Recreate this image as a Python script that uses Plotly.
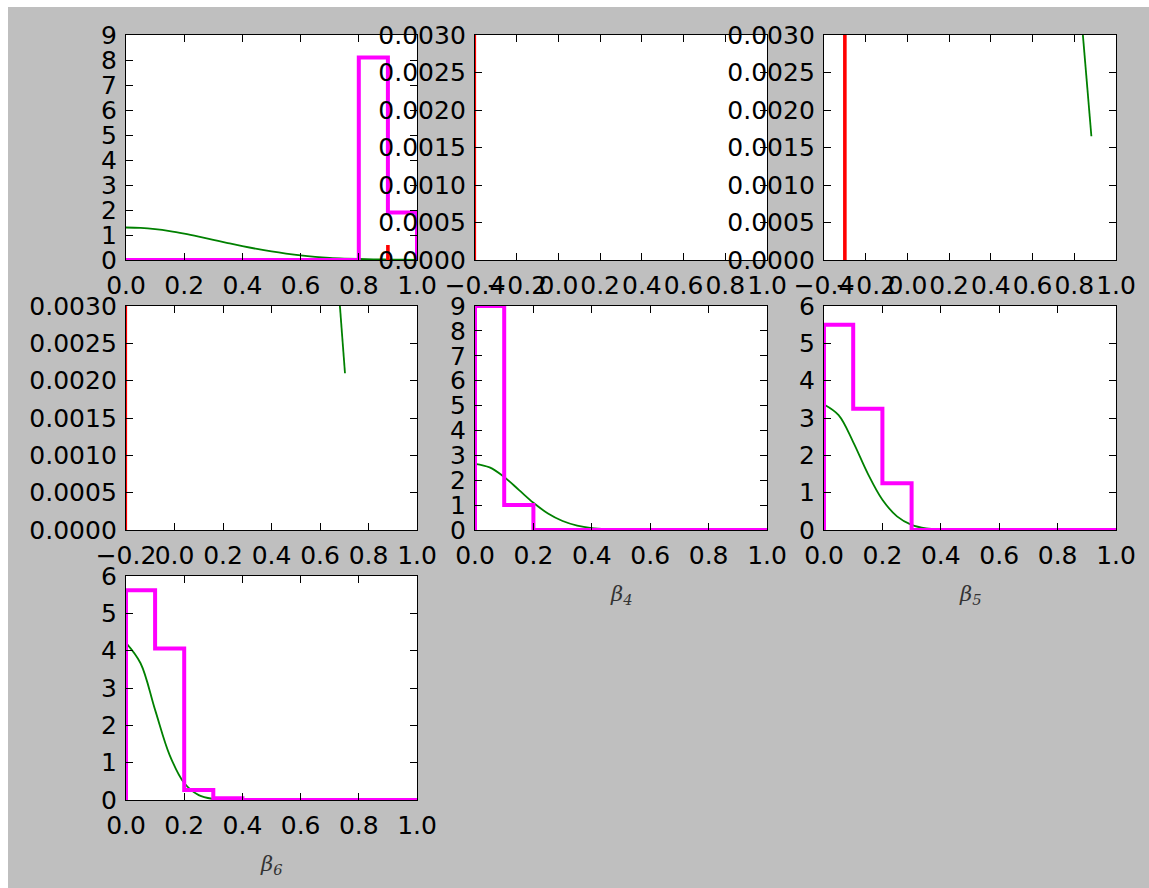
import numpy as np
import plotly.graph_objects as go

# ---------------------------------------------------------------- data
bin_edges = [0.0, 0.1, 0.2, 0.3, 0.4, 0.5, 0.6, 0.7, 0.8, 0.9, 1.0]

# posterior sample histograms (density, step outline)
hist_b1 = [0.0, 0.0, 0.0, 0.0, 0.0, 0.0, 0.0, 0.0, 8.1, 1.9]
hist_b4 = [9.0, 1.0, 0.0, 0.0, 0.0, 0.0, 0.0, 0.0, 0.0, 0.0]
hist_b5 = [5.5, 3.25, 1.25, 0.0, 0.0, 0.0, 0.0, 0.0, 0.0, 0.0]
hist_b6 = [5.62, 4.06, 0.27, 0.05, 0.0, 0.0, 0.0, 0.0, 0.0, 0.0]

# prior density curves
prior_x = [0.0, 0.05, 0.1, 0.15, 0.2, 0.25, 0.3, 0.35, 0.4, 0.45, 0.5,
           0.55, 0.6, 0.65, 0.7, 0.75, 0.8, 0.85, 0.9, 0.95, 1.0]
prior_b1 = [1.300, 1.283, 1.233, 1.154, 1.051, 0.933, 0.806, 0.679, 0.556,
            0.444, 0.345, 0.258, 0.182, 0.125, 0.085, 0.058, 0.040, 0.027,
            0.018, 0.011, 0.007]
prior_b4 = [2.660, 2.516, 2.130, 1.613, 1.094, 0.663, 0.360, 0.175, 0.076,
            0.030, 0.010, 0.003, 0.001, 0.0, 0.0, 0.0, 0.0, 0.0, 0.0, 0.0, 0.0]
prior_b5 = [3.360, 3.075, 2.356, 1.512, 0.812, 0.366, 0.138, 0.043, 0.012,
            0.003, 0.0, 0.0, 0.0, 0.0, 0.0, 0.0, 0.0, 0.0, 0.0, 0.0, 0.0]
prior_b6 = [4.210, 3.663, 2.414, 1.204, 0.455, 0.130, 0.028, 0.005, 0.001,
            0.0, 0.0, 0.0, 0.0, 0.0, 0.0, 0.0, 0.0, 0.0, 0.0, 0.0, 0.0]

# prior tails that reach into the zoomed panels
tail_x_b3 = [0.82, 0.84, 0.86, 0.882]
tail_y_b3 = [0.0037, 0.0030, 0.00235, 0.00165]
tail_x_b4 = [0.67, 0.682, 0.703]
tail_y_b4 = [0.00352, 0.0030, 0.0021]

# true parameter values (vertical markers): panel, x, top
true_panel = [1, 2, 3, 4]
true_x = [0.9, -0.4, -0.3, -0.2]
true_top = [0.6, 0.0035, 0.0035, 0.0035]

# tick values / labels
ticks_01 = [0.0, 0.2, 0.4, 0.6, 0.8, 1.0]
ticks_01_txt = ["0.0", "0.2", "0.4", "0.6", "0.8", "1.0"]
ticks_m04 = [-0.4, -0.2, 0.0, 0.2, 0.4, 0.6, 0.8, 1.0]
ticks_m04_txt = ["\u22120.4", "\u22120.2", "0.0", "0.2", "0.4", "0.6", "0.8", "1.0"]
ticks_m02 = [-0.2, 0.0, 0.2, 0.4, 0.6, 0.8, 1.0]
ticks_m02_txt = ["\u22120.2", "0.0", "0.2", "0.4", "0.6", "0.8", "1.0"]
ticks_small = [0.0, 0.0005, 0.0010, 0.0015, 0.0020, 0.0025, 0.0030]
ticks_small_txt = ["0.0000", "0.0005", "0.0010", "0.0015", "0.0020", "0.0025", "0.0030"]
ticks_0_9 = [0, 1, 2, 3, 4, 5, 6, 7, 8, 9]
ticks_0_6 = [0, 1, 2, 3, 4, 5, 6]

# ---------------------------------------------------------------- layout
W, H = 1149, 888
col_px = [(126, 417), (475, 767), (824, 1116)]
row_px = [(35, 260), (306, 530), (576, 800)]

MAGENTA = "#ff00ff"
GREEN = "#008000"
RED = "#ff0000"


def xdom(c):
    a, b = col_px[c]
    return [a / W, b / W]


def ydom(r):
    a, b = row_px[r]
    return [1 - b / H, 1 - a / H]


def step_outline(edges, heights):
    xs = np.repeat(edges, 2)
    ys = np.concatenate([[0.0], np.repeat(heights, 2), [0.0]])
    return xs, ys


# panel definitions: (row, col, x-range, x ticks, x text, y-range, y ticks, y text)
panels = [
    (0, 0, [0, 1], ticks_01, ticks_01_txt, [0, 9], ticks_0_9, None),
    (0, 1, [-0.4, 1.0], ticks_m04, ticks_m04_txt, [0, 0.003], ticks_small, ticks_small_txt),
    (0, 2, [-0.4, 1.0], ticks_m04, ticks_m04_txt, [0, 0.003], ticks_small, ticks_small_txt),
    (1, 0, [-0.2, 1.0], ticks_m02, ticks_m02_txt, [0, 0.003], ticks_small, ticks_small_txt),
    (1, 1, [0, 1], ticks_01, ticks_01_txt, [0, 9], ticks_0_9, None),
    (1, 2, [0, 1], ticks_01, ticks_01_txt, [0, 6], ticks_0_6, None),
    (2, 0, [0, 1], ticks_01, ticks_01_txt, [0, 6], ticks_0_6, None),
]

fig = go.Figure()

tick_font = dict(family="DejaVu Sans", size=25, color="black")
axis_common = dict(
    showline=True, linecolor="black", linewidth=1.4, mirror="ticks",
    ticks="inside", ticklen=7, tickwidth=1.1, tickcolor="black",
    showgrid=False, zeroline=False, tickfont=tick_font, tickangle=0,
    fixedrange=True, automargin=False,
)

layout_axes = {}
for i, (r, c, xr, xt, xtt, yr, yt, ytt) in enumerate(panels, start=1):
    sx = "" if i == 1 else str(i)
    layout_axes["xaxis" + sx] = dict(
        axis_common, domain=xdom(c), range=xr, tickvals=xt, ticktext=xtt,
        anchor="y" + sx, ticklabelstandoff=3,
    )
    yax = dict(axis_common, domain=ydom(r), range=yr, tickvals=yt,
               anchor="x" + sx, ticklabelstandoff=3)
    if ytt is not None:
        yax["ticktext"] = ytt
    layout_axes["yaxis" + sx] = yax


def axes_of(i):
    s = "" if i == 1 else str(i)
    return dict(xaxis="x" + s, yaxis="y" + s)


def add_line(i, x, y, color, width, shape="linear"):
    fig.add_trace(go.Scatter(
        x=x, y=y, mode="lines", line=dict(color=color, width=width, shape=shape),
        hoverinfo="skip", showlegend=False, **axes_of(i)))


# prior curves (drawn under the histograms)
add_line(1, prior_x, prior_b1, GREEN, 1.8, "spline")
add_line(3, tail_x_b3, tail_y_b3, GREEN, 1.8)
add_line(4, tail_x_b4, tail_y_b4, GREEN, 1.8)
add_line(5, prior_x, prior_b4, GREEN, 1.8, "spline")
add_line(6, prior_x, prior_b5, GREEN, 1.8, "spline")
add_line(7, prior_x, prior_b6, GREEN, 1.8, "spline")

# posterior histograms
for i, h in [(1, hist_b1), (5, hist_b4), (6, hist_b5), (7, hist_b6)]:
    hx, hy = step_outline(bin_edges, h)
    add_line(i, hx, hy, MAGENTA, 4)

# true values; a marker sitting on the frame edge is mostly hidden by the spine
for i, tx, top in zip(true_panel, true_x, true_top):
    on_edge = abs(tx - panels[i - 1][2][0]) < 1e-9
    add_line(i, [tx, tx], [0, top], RED, 2.2 if on_edge else 3.6)

# axis labels for the lower panels
beta_labels = [
    (1, 1, "\u03b2<sub>4</sub>"),
    (1, 2, "\u03b2<sub>5</sub>"),
    (2, 0, "\u03b2<sub>6</sub>"),
]
annotations = []
for r, c, txt in beta_labels:
    a, b = col_px[c]
    annotations.append(dict(
        x=(a + b) / 2 / W, y=1 - (row_px[r][1] + 65) / H,
        xref="paper", yref="paper", xanchor="center", yanchor="middle",
        text="<i>" + txt + "</i>", showarrow=False,
        font=dict(family="DejaVu Serif", size=21, color="#333333"),
    ))

# white frame along the top and left of the grey figure area
shapes = [
    dict(type="rect", xref="paper", yref="paper", x0=0, x1=8 / W, y0=0, y1=1,
         fillcolor="white", line=dict(width=0), layer="below"),
    dict(type="rect", xref="paper", yref="paper", x0=0, x1=1, y0=1 - 7 / H, y1=1,
         fillcolor="white", line=dict(width=0), layer="below"),
]

fig.update_layout(
    width=W, height=H,
    margin=dict(l=0, r=0, t=0, b=0, pad=0, autoexpand=False),
    paper_bgcolor="#bfbfbf", plot_bgcolor="white",
    showlegend=False, annotations=annotations, shapes=shapes,
    **layout_axes,
)

fig.write_html("out.html")
